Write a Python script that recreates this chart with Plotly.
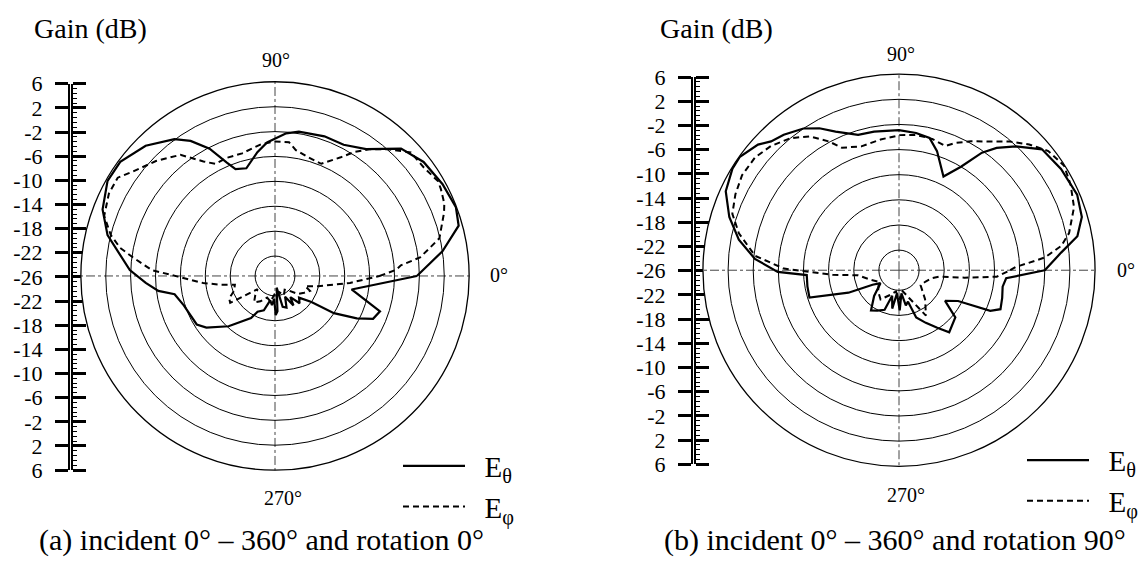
import plotly.graph_objects as go

# ---------------- data (gain in dB versus angle in degrees) ----------------
# Panel (a): incident 0-360, rotation 0
A_THETA_DEG = [0, 8.4, 15.3, 20.8, 28.7, 37.5, 45.3, 54.3, 62.4, 70.5,
               80.6, 85.5, 93.4, 98.1, 104.9, 110.3, 113, 117.2, 122, 126.3,
               134.8, 143.6, 150.4, 158.9, 166.3, 177.7, 183.1, 187.3, 190.3, 197.9,
               211.8, 217, 227.3, 240.4, 244, 252, 259, 264, 268, 271,
               274, 278, 284, 290, 296, 302, 306, 312, 318, 324.5,
               327.7, 332.6, 336.4, 341.4, 350, 360]
A_THETA_DB = [-2.4, 2.0, 5.4, 5.9, 5.5, 4.9, 3.6, -0.1, -1.4, -1.4,
              -1.7, -2.2, -3.7, -5.1, -7.3, -6.9, -5.4, -2.2, 0.4, 2.1,
              4.3, 5.7, 5.75, 4.5, 2.5, -1.85, -4.4, -6.3, -8.8, -9.8,
              -10.4, -11.4, -14.2, -17.4, -18.8, -19.4, -21.2, -20.5, -21.5, -18.9,
              -19.5, -23.3, -20.1, -19.8, -21.5, -19.6, -21.0, -19.3, -20.0, -18.0,
              -14.0, -10.4, -8.0, -7.4, -12.7, -2.4]

A_PHI_DEG = [0, 2.9, 4.8, 7.3, 10.3, 12.9, 20.5, 23.2, 27.7, 30.2,
             36, 42.3, 48.2, 53.4, 57.3, 61, 67.6, 74.3, 80.6, 84,
             90, 96, 105, 112, 118, 122, 128, 136, 143.6, 148,
             153.6, 160.6, 166, 169.7, 172.6, 177.3, 180.4, 185.6, 188.8, 192.2,
             200, 206, 211, 217, 224, 231.5, 240, 250, 260, 268,
             275, 285, 295, 305, 314, 322, 330, 337, 341.3, 346.6,
             354.7, 360]
A_PHI_DB = [-8.4, -5.7, -4.9, -1.7, 0.1, 1.9, 3.8, 4.4, 4.9, 5.1,
            4.4, 4.3, 2.1, 0.15, -1.5, -3.4, -5.7, -5.4, -4.7, -3.6,
            -3.6, -3.9, -4.8, -4.7, -4.8, -3.5, -0.5, 1.4, 3.1, 4.6,
            4.6, 3.9, 2.0, 0.1, -2.2, -5.4, -9.6, -13.6, -16.1, -18.6,
            -18.2, -17.0, -16.8, -21.7, -20.8, -19.8, -20.5, -21.5, -21.0, -22.2,
            -21.8, -22.5, -21.8, -22.5, -21.9, -20.5, -19.8, -19.1, -20.1, -18.1,
            -13.1, -8.4]

# Panel (b): incident 0-360, rotation 90
B_THETA_DEG = [0, 6.2, 10.8, 16.2, 23, 32, 40.2, 46.7, 51.4, 54.8,
               59.1, 64.6, 72.3, 77, 82.9, 90, 100.2, 106.8, 114.6, 119.3,
               124, 130.4, 134.8, 138.3, 144.5, 148.6, 155.5, 162.6, 169.2, 175.5,
               180.8, 183, 190, 197, 204, 208.8, 215, 226, 235.2, 241.9,
               250, 255, 260, 265, 271, 276, 281, 286, 290, 297,
               303.6, 309, 320, 326.4, 332.5, 336, 339, 345, 351, 355.7,
               360]
B_THETA_DB = [-2.0, 0.75, 3.7, 5.1, 5.6, 5.2, 4.6, 1.9, -0.3, -2.3,
              -6.0, -8.7, -5.3, -3.6, -3.2, -2.9, -2.8, -2.7, -0.95, 0.7,
              2.0, 3.1, 3.7, 4.85, 5.9, 5.85, 5.1, 3.1, 0.75, -2.2,
              -5.9, -10.5, -10.4, -10.3, -16.4, -20.4, -21.6, -19.5, -17.4, -17.9,
              -18.5, -21.0, -19.0, -21.5, -18.8, -21.5, -19.5, -20.0, -17.2, -15.8,
              -14.2, -12.5, -13.5, -16.4, -14.6, -9.3, -7.9, -8.2, -8.5, -8.1,
              -2.0]

B_PHI_DEG = [0, 1.6, 2.9, 5, 8.5, 12.3, 19.8, 26.4, 32.3, 38.6,
             44, 49.4, 54.7, 60.9, 66.3, 69.6, 75.8, 82.8, 89.6, 98,
             106.9, 115, 118.5, 123.7, 129.4, 135.9, 141.9, 148.8, 155.1, 161.3,
             167, 174.3, 179.2, 184, 187, 199, 210, 225, 237.7, 250,
             262, 270, 280, 290, 300.7, 312, 325, 337, 346.4, 350.7,
             353.5, 356.2, 360]
B_PHI_DB = [-7.5, -6.6, -5.0, -1.9, 0.9, 2.5, 4.4, 5.3, 5.9, 5.2,
            3.6, 1.8, -0.1, -1.7, -3.1, -4.1, -3.65, -3.5, -3.7, -4.2,
            -4.6, -3.7, -1.9, 0.4, 2.0, 3.2, 3.9, 4.0, 3.5, 2.8,
            0.95, -2.2, -6.9, -14.6, -18.6, -20.5, -21.5, -20.5, -19.7, -21.0,
            -21.8, -20.5, -21.8, -20.5, -16.8, -19.0, -21.0, -20.6, -19.8, -18.8,
            -14.7, -9.6, -7.5]

# grid rings (dB) and the gain ruler drawn on the left of each polar plot
RING_DB = [-22, -18, -14, -10, -6, -2, 2]
RADIAL_RANGE = [-25.2, 6]
RULER_POS = [32, 28, 24, 20, 16, 12, 8, 4, 0, -4, -8, -12, -16, -20, -24, -28, -32]
RULER_LABELS = ["6", "2", "-2", "-6", "-10", "-14", "-18", "-22", "-26",
                "-22", "-18", "-14", "-10", "-6", "-2", "2", "6"]

SERIES_NAMES = ["&nbsp;&nbsp;E<sub>θ</sub>", "&nbsp;&nbsp;E<sub>φ</sub>"]
CAPTIONS = ["(a) incident 0° – 360° and rotation 0°",
            "(b) incident 0° – 360° and rotation 90°"]

# ---------------- layout helpers ----------------
W, H = 1144, 573
FONT = "Liberation Serif, Times New Roman, Times, DejaVu Serif, serif"


def px(x):
    return x / W


def py(y):
    return 1 - y / H


fig = go.Figure()

panels = [
    ("polar", "legend", A_THETA_DEG, A_THETA_DB, A_PHI_DEG, A_PHI_DB),
    ("polar2", "legend2", B_THETA_DEG, B_THETA_DB, B_PHI_DEG, B_PHI_DB),
]
for sub, leg, tdeg, tdb, pdeg, pdb in panels:
    fig.add_trace(go.Scatterpolar(
        theta=tdeg, r=tdb, mode="lines", subplot=sub, legend=leg,
        name=SERIES_NAMES[0], line=dict(color="black", width=2.2)))
    fig.add_trace(go.Scatterpolar(
        theta=pdeg, r=pdb, mode="lines", subplot=sub, legend=leg,
        name=SERIES_NAMES[1], line=dict(color="black", width=2, dash="6px,4px")))

# invisible anchors so the ruler axes are rendered
for xa, ya in [("x", "y"), ("x", "y2"), ("x2", "y3"), ("x2", "y4")]:
    fig.add_trace(go.Scatter(x=[0.5], y=[0], xaxis=xa, yaxis=ya, mode="markers",
                             marker=dict(opacity=0), hoverinfo="skip",
                             showlegend=False))


def polar_cfg(cx, cy, rad):
    return dict(
        domain=dict(x=[px(cx - rad), px(cx + rad)], y=[py(cy + rad), py(cy - rad)]),
        bgcolor="white",
        radialaxis=dict(range=RADIAL_RANGE, tickvals=RING_DB, showticklabels=False,
                        ticks="", showline=False, gridcolor="black", gridwidth=1,
                        angle=0),
        angularaxis=dict(rotation=0, direction="counterclockwise",
                         tickvals=[0, 90, 180, 270], showticklabels=False, ticks="",
                         gridcolor="#444", gridwidth=1, griddash="dashdot",
                         showline=True, linecolor="black", linewidth=1.3),
    )


def ruler_axes(x_px, top_px, bot_px):
    dom = [py(bot_px), py(top_px)]
    common = dict(domain=dom, range=[-32, 32], tickvals=RULER_POS,
                  ticks="outside", ticklen=13, tickwidth=2.5, tickcolor="black",
                  showline=True, linecolor="black", linewidth=2,
                  showgrid=False, zeroline=False, fixedrange=True)
    left = dict(common, ticktext=RULER_LABELS, side="left",
                tickfont=dict(family=FONT, size=22, color="black"),
                ticklabelstandoff=8)
    right = dict(common, side="right", showticklabels=False,
                 minor=dict(ticks="outside", ticklen=4, tickwidth=1,
                            tickcolor="black", tickmode="linear", tick0=0,
                            dtick=0.8, showgrid=False))
    xax = dict(domain=[px(x_px), px(x_px + 1)], range=[0, 1], visible=False,
               fixedrange=True)
    return xax, left, right


xa1, ya1, ya2 = ruler_axes(70, 75, 479)
xa2, ya3, ya4 = ruler_axes(693, 68, 473)

legend_common = dict(font=dict(family=FONT, size=29, color="black"),
                     bgcolor="rgba(0,0,0,0)", itemwidth=62, tracegroupgap=0,
                     xanchor="left", yanchor="top", traceorder="normal")

fig.update_layout(
    width=W, height=H, autosize=False,
    margin=dict(l=0, r=0, t=0, b=0),
    paper_bgcolor="white", plot_bgcolor="white",
    font=dict(family=FONT, color="black"),
    polar=polar_cfg(275, 276, 203),
    polar2=polar_cfg(899, 270, 205),
    xaxis=dict(xa1, anchor="y"),
    yaxis=dict(ya1, anchor="x"),
    yaxis2=dict(ya2, anchor="x", overlaying="y"),
    xaxis2=dict(xa2, anchor="y3"),
    yaxis3=dict(ya3, anchor="x2"),
    yaxis4=dict(ya4, anchor="x2", overlaying="y3"),
    legend=dict(legend_common, x=px(398), y=py(448)),
    legend2=dict(legend_common, x=px(1022), y=py(442)),
    showlegend=True,
)

annotations = [
    ("Gain (dB)", 90, 17, 28),
    ("Gain (dB)", 716, 17, 28),
    ("90°", 276, 50, 20),
    ("0°", 499, 275, 20),
    ("270°", 283, 508, 20),
    ("90°", 901, 44, 20),
    ("0°", 1126, 270, 20),
    ("270°", 906, 505, 20),
    (CAPTIONS[0], 261, 552, 30),
    (CAPTIONS[1], 895, 552, 30),
]
for text, x, y, size in annotations:
    fig.add_annotation(text=text, x=px(x), y=py(y), xref="paper", yref="paper",
                       xanchor="center", yanchor="middle", showarrow=False,
                       font=dict(family=FONT, size=size, color="black"))

fig.write_html("out.html",
               post_script="document.body.style.margin='0';"
                           "document.body.style.overflow='hidden';")
